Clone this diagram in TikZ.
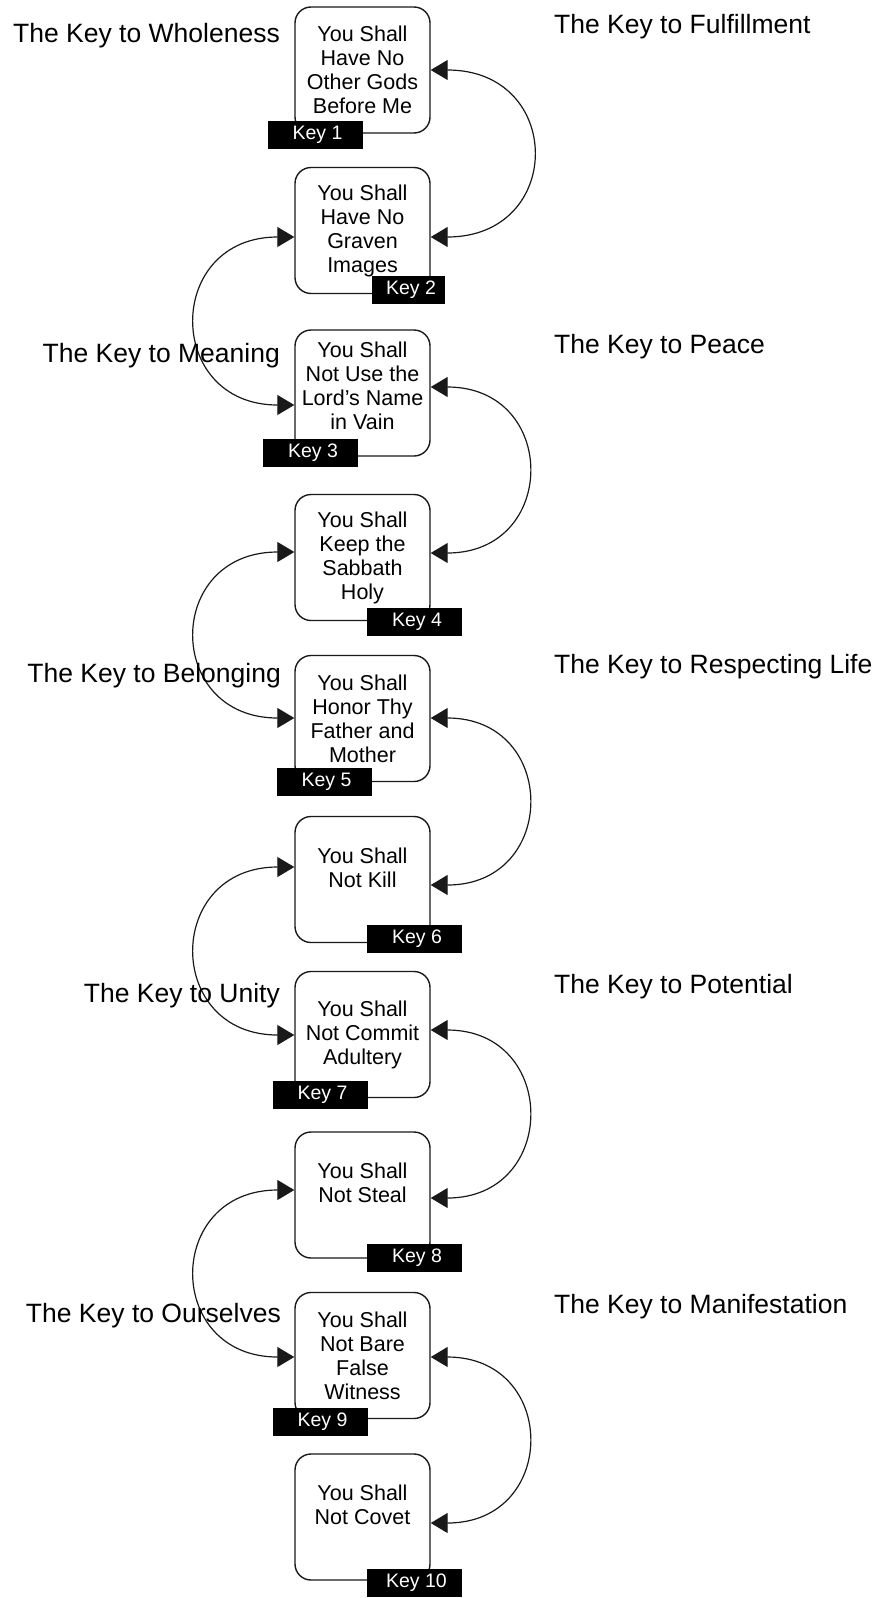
\documentclass[tikz,border=0pt]{standalone}
\usepackage{fontspec}
\setmainfont{Liberation Sans}
\usetikzlibrary{arrows.meta,calc}
\begin{document}
\begin{tikzpicture}[x=1pt,y=-1pt,
  cmd/.style={draw=black!90, line width=1.4pt, rounded corners=16pt, minimum width=135pt, minimum height=126pt, inner sep=0pt, align=center, text=black, font=\fontsize{21.5}{24}\selectfont},
  keytag/.style={fill=black, text=white, minimum width=95pt, minimum height=28pt, inner sep=0pt, font=\fontsize{19.5}{22}\selectfont, execute at begin node={\hspace*{5pt}}},
  lbl/.style={text=black, inner sep=0pt, font=\fontsize{26.5}{30}\selectfont},
  link/.style={<->, >={Triangle[length=17pt,width=20pt]}, line width=1.2pt, draw=black!90},
]
\useasboundingbox (0,0) rectangle (877,1598);

% commandment boxes
\node[cmd] (b1) at (362.5,70) {You Shall\\Have No\\Other Gods\\Before Me};
\node[cmd] (b2) at (362.5,230.5) {You Shall\\Have No\\Graven\\Images};
\node[cmd] (b3) at (362.5,393) {You Shall\\Not Use the\\Lord’s Name\\in Vain\\[-10pt]\mbox{}};
\node[cmd] (b4) at (362.5,557.5) {You Shall\\Keep the\\Sabbath\\Holy};
\node[cmd] (b5) at (362.5,718.5) {You Shall\\Honor Thy\\Father and\\Mother};
\node[cmd] (b6) at (362.5,879.5) {You Shall\\Not Kill\\\mbox{}};
\node[cmd] (b7) at (362.5,1034.5) {You Shall\\Not Commit\\Adultery};
\node[cmd] (b8) at (362.5,1195) {You Shall\\Not Steal\\\mbox{}};
\node[cmd] (b9) at (362.5,1355.5) {You Shall\\Not Bare\\False\\Witness};
\node[cmd] (b10) at (362.5,1517) {You Shall\\Not Covet\\\mbox{}};

% right arcs
\draw[link] ([yshift=0pt]b1.east) .. controls +(134,0) and +(134,0) .. ([yshift=-6.5pt]b2.east);
\draw[link] ([yshift=6pt]b3.east) .. controls +(128,0) and +(128,0) .. ([yshift=4.5pt]b4.east);
\draw[link] ([yshift=0.5pt]b5.east) .. controls +(128,0) and +(128,0) .. ([yshift=-5.5pt]b6.east);
\draw[link] ([yshift=4.5pt]b7.east) .. controls +(128,0) and +(128,0) .. ([yshift=-3pt]b8.east);
\draw[link] ([yshift=-1.5pt]b9.east) .. controls +(128,0) and +(128,0) .. ([yshift=-6pt]b10.east);

% left arcs
\draw[link] ([yshift=-6.5pt]b2.west) .. controls +(-130,0) and +(-130,0) .. ([yshift=-12pt]b3.west);
\draw[link] ([yshift=5.5pt]b4.west) .. controls +(-130,0) and +(-130,0) .. ([yshift=0.5pt]b5.west);
\draw[link] ([yshift=12.5pt]b6.west) .. controls +(-130,0) and +(-130,0) .. ([yshift=-0.5pt]b7.west);
\draw[link] ([yshift=5pt]b8.west) .. controls +(-130,0) and +(-130,0) .. ([yshift=-1.5pt]b9.west);

% key tags
\node[keytag] (k1) at (315,135) {Key 1};
\node[keytag, minimum width=73pt] (k2) at (408.5,290) {Key 2};
\node[keytag] (k3) at (310.5,453) {Key 3};
\node[keytag] (k4) at (414.5,622) {Key 4};
\node[keytag] (k5) at (324,782) {Key 5};
\node[keytag] (k6) at (414.5,939) {Key 6};
\node[keytag] (k7) at (320,1095) {Key 7};
\node[keytag] (k8) at (414.5,1258) {Key 8};
\node[keytag] (k9) at (320,1422) {Key 9};
\node[keytag] (k10) at (414,1583) {Key 10};

% side labels
\node[lbl, anchor=base east] (l1) at (280,42) {The Key to Wholeness};
\node[lbl, anchor=base west] (r1) at (554,33) {The Key to Fulfillment};
\node[lbl, anchor=base east] (l2) at (280,362) {The Key to Meaning};
\node[lbl, anchor=base west] (r2) at (554,353) {The Key to Peace};
\node[lbl, anchor=base east] (l3) at (281,682) {The Key to Belonging};
\node[lbl, anchor=base west] (r3) at (554,673) {The Key to Respecting Life};
\node[lbl, anchor=base east] (l4) at (280,1002) {The Key to Unity};
\node[lbl, anchor=base west] (r4) at (554,993) {The Key to Potential};
\node[lbl, anchor=base east] (l5) at (281,1322) {The Key to Ourselves};
\node[lbl, anchor=base west] (r5) at (554,1313) {The Key to Manifestation};
\end{tikzpicture}
\end{document}
